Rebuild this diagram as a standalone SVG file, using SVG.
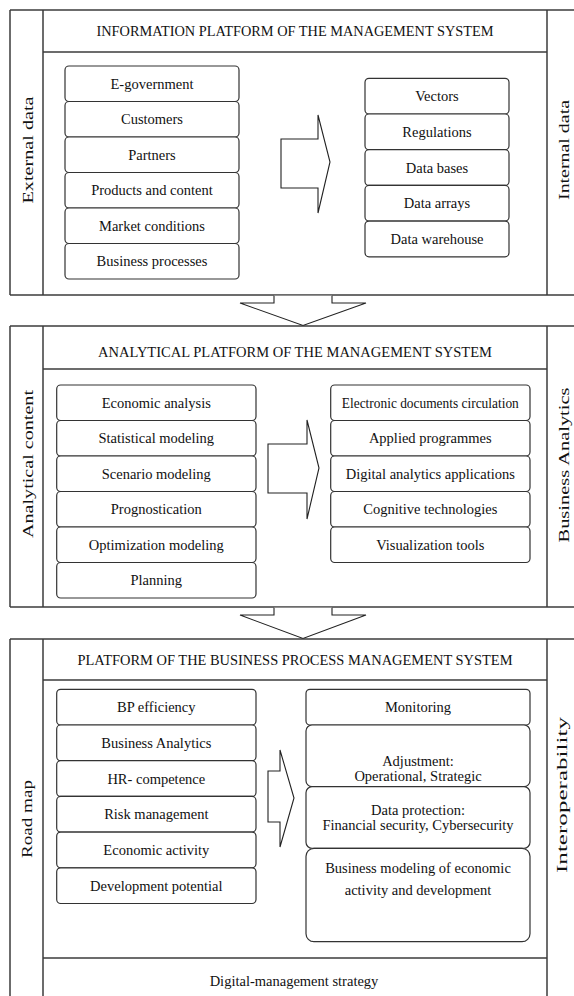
<svg xmlns="http://www.w3.org/2000/svg" width="574" height="996" viewBox="0 0 574 996" font-family="'Liberation Serif', 'Times New Roman', 'DejaVu Serif', serif">
<style>
.frame{fill:none;stroke:#3c3c3c;stroke-width:1.5}
.box{fill:#fff;stroke:#333;stroke-width:1.2}
.arrow{fill:#fff;stroke:#222;stroke-width:1.1;stroke-linejoin:miter}
text{font-family:'Liberation Serif','Times New Roman','DejaVu Serif',serif;fill:#111;text-anchor:middle}
.item{font-size:14.5px}
.hdr{font-size:14px}
.vert{font-size:15px}
</style>
<rect width="574" height="996" fill="#fff"/>

<!-- Section frames -->
<g id="section-information" class="frame">
  <path d="M10,10 H574 M10,295 H574 M10,10 V295 M43,10 V295 M547,10 V295 M43,52 H547"/>
</g>
<g id="section-analytical" class="frame">
  <path d="M10,326 H574 M10,607 H574 M10,326 V607 M43,326 V607 M547,326 V607 M43,369 H547"/>
</g>
<g id="section-bpm" class="frame">
  <path d="M10,639 H574 M10,639 V996 M43,639 V996 M547,639 V996 M43,680 H547 M43,958 H547"/>
</g>

<!-- Section headers and side labels -->
<g id="hdr-information"><text class="hdr" x="295" y="36" textLength="397" lengthAdjust="spacingAndGlyphs">INFORMATION PLATFORM OF THE MANAGEMENT SYSTEM</text></g>
<g id="hdr-analytical"><text class="hdr" x="295" y="357" textLength="394" lengthAdjust="spacingAndGlyphs">ANALYTICAL PLATFORM OF THE MANAGEMENT SYSTEM</text></g>
<g id="hdr-bpm"><text class="hdr" x="295" y="665" textLength="435" lengthAdjust="spacingAndGlyphs">PLATFORM OF THE BUSINESS PROCESS MANAGEMENT SYSTEM</text></g>
<g id="footer-strategy"><text class="item" x="294" y="986">Digital-management strategy</text></g>

<g id="lbl-external"><text class="vert" transform="translate(32.5,150) rotate(-90)" textLength="107" lengthAdjust="spacingAndGlyphs">External data</text></g>
<g id="lbl-internal"><text class="vert" transform="translate(568.5,150) rotate(-90)" textLength="100" lengthAdjust="spacingAndGlyphs">Internal data</text></g>
<g id="lbl-analytical-content"><text class="vert" transform="translate(32.5,464) rotate(-90)" textLength="148" lengthAdjust="spacingAndGlyphs">Analytical content</text></g>
<g id="lbl-business-analytics"><text class="vert" transform="translate(568.5,465) rotate(-90)" textLength="155" lengthAdjust="spacingAndGlyphs">Business Analytics</text></g>
<g id="lbl-road-map"><text class="vert" transform="translate(31.5,819) rotate(-90)" textLength="78" lengthAdjust="spacingAndGlyphs">Road map</text></g>
<g id="lbl-interoperability"><text class="vert" transform="translate(567,795) rotate(-90)" textLength="156" lengthAdjust="spacingAndGlyphs">Interoperability</text></g>

<!-- Information platform: external list -->
<g id="ext-egov"><rect class="box" x="65" y="66" width="174" height="35.5" rx="4"/><text class="item" x="152" y="88.8">E-government</text></g>
<g id="ext-customers"><rect class="box" x="65" y="101.5" width="174" height="35.5" rx="4"/><text class="item" x="152" y="124.3">Customers</text></g>
<g id="ext-partners"><rect class="box" x="65" y="137" width="174" height="35.5" rx="4"/><text class="item" x="152" y="159.8">Partners</text></g>
<g id="ext-products"><rect class="box" x="65" y="172.5" width="174" height="35.5" rx="4"/><text class="item" x="152" y="195.3">Products and content</text></g>
<g id="ext-market"><rect class="box" x="65" y="208" width="174" height="35.5" rx="4"/><text class="item" x="152" y="230.8">Market conditions</text></g>
<g id="ext-bp"><rect class="box" x="65" y="243.5" width="174" height="35.5" rx="4"/><text class="item" x="152" y="266.3">Business processes</text></g>

<!-- Information platform: internal list -->
<g id="int-vectors"><rect class="box" x="365" y="78.3" width="144" height="35.7" rx="4"/><text class="item" x="437" y="101.2">Vectors</text></g>
<g id="int-regulations"><rect class="box" x="365" y="114" width="144" height="35.7" rx="4"/><text class="item" x="437" y="136.9">Regulations</text></g>
<g id="int-databases"><rect class="box" x="365" y="149.7" width="144" height="35.7" rx="4"/><text class="item" x="437" y="172.6">Data bases</text></g>
<g id="int-arrays"><rect class="box" x="365" y="185.4" width="144" height="35.7" rx="4"/><text class="item" x="437" y="208.3">Data arrays</text></g>
<g id="int-warehouse"><rect class="box" x="365" y="221.1" width="144" height="35.7" rx="4"/><text class="item" x="437" y="244">Data warehouse</text></g>

<!-- Analytical platform: left list -->
<g id="an-economic"><rect class="box" x="56.7" y="385" width="199.3" height="35.5" rx="4"/><text class="item" x="156.3" y="407.8">Economic analysis</text></g>
<g id="an-statistical"><rect class="box" x="56.7" y="420.5" width="199.3" height="35.5" rx="4"/><text class="item" x="156.3" y="443.3">Statistical modeling</text></g>
<g id="an-scenario"><rect class="box" x="56.7" y="456" width="199.3" height="35.5" rx="4"/><text class="item" x="156.3" y="478.8">Scenario modeling</text></g>
<g id="an-prognostication"><rect class="box" x="56.7" y="491.5" width="199.3" height="35.5" rx="4"/><text class="item" x="156.3" y="514.3">Prognostication</text></g>
<g id="an-optimization"><rect class="box" x="56.7" y="527" width="199.3" height="35.5" rx="4"/><text class="item" x="156.3" y="549.8">Optimization modeling</text></g>
<g id="an-planning"><rect class="box" x="56.7" y="562.5" width="199.3" height="35.5" rx="4"/><text class="item" x="156.3" y="585.3">Planning</text></g>

<!-- Analytical platform: right list -->
<g id="ba-edoc"><rect class="box" x="330.7" y="385" width="199.3" height="35.5" rx="4"/><text class="item" x="430.3" y="407.8" textLength="177" lengthAdjust="spacingAndGlyphs">Electronic documents circulation</text></g>
<g id="ba-applied"><rect class="box" x="330.7" y="420.5" width="199.3" height="35.5" rx="4"/><text class="item" x="430.3" y="443.3">Applied programmes</text></g>
<g id="ba-digital"><rect class="box" x="330.7" y="456" width="199.3" height="35.5" rx="4"/><text class="item" x="430.3" y="478.8">Digital analytics applications</text></g>
<g id="ba-cognitive"><rect class="box" x="330.7" y="491.5" width="199.3" height="35.5" rx="4"/><text class="item" x="430.3" y="514.3">Cognitive technologies</text></g>
<g id="ba-visualization"><rect class="box" x="330.7" y="527" width="199.3" height="35.5" rx="4"/><text class="item" x="430.3" y="549.8">Visualization tools</text></g>

<!-- BPM platform: left list -->
<g id="rm-efficiency"><rect class="box" x="56.7" y="689.3" width="199.3" height="35.7" rx="4"/><text class="item" x="156.3" y="712.2">BP efficiency</text></g>
<g id="rm-analytics"><rect class="box" x="56.7" y="725" width="199.3" height="35.7" rx="4"/><text class="item" x="156.3" y="747.9">Business Analytics</text></g>
<g id="rm-hr"><rect class="box" x="56.7" y="760.7" width="199.3" height="35.7" rx="4"/><text class="item" x="156.3" y="783.6">HR- competence</text></g>
<g id="rm-risk"><rect class="box" x="56.7" y="796.4" width="199.3" height="35.7" rx="4"/><text class="item" x="156.3" y="819.3">Risk management</text></g>
<g id="rm-activity"><rect class="box" x="56.7" y="832.1" width="199.3" height="35.7" rx="4"/><text class="item" x="156.3" y="855">Economic activity</text></g>
<g id="rm-potential"><rect class="box" x="56.7" y="867.8" width="199.3" height="35.7" rx="4"/><text class="item" x="156.3" y="890.7">Development potential</text></g>

<!-- BPM platform: right list -->
<g id="io-monitoring"><rect class="box" x="306" y="689.3" width="224" height="35.7" rx="4"/><text class="item" x="418" y="712.2">Monitoring</text></g>
<g id="io-adjustment"><rect class="box" x="306" y="725" width="224" height="61.7" rx="6"/><text class="item" x="418" y="766">Adjustment:</text><text class="item" x="418" y="781">Operational, Strategic</text></g>
<g id="io-protection"><rect class="box" x="306" y="786.7" width="224" height="61.6" rx="6"/><text class="item" x="418" y="815">Data protection:</text><text class="item" x="418" y="830">Financial security, Cybersecurity</text></g>
<g id="io-modeling"><rect class="box" x="306" y="848.3" width="224" height="93.4" rx="8"/><text class="item" x="418" y="873">Business modeling of economic</text><text class="item" x="418" y="895">activity and development</text></g>

<!-- Connectors (block arrows) -->
<g id="connectors">
  <polygon class="arrow" points="281,139 318,139 318,115 330,162 318,213 318,188 281,188"/>
  <polygon class="arrow" points="268,444 307,444 307,420 319,468 307,519 307,493 268,493"/>
  <polygon class="arrow" points="268,771 280,771 280,750 294,798 280,847 280,822 268,822"/>
  <polyline class="arrow" points="274,295.8 274,303 240,303 303,325.5 366,303 332,303 332,295.8"/>
  <polyline class="arrow" points="274,607.8 274,615 240,615 303,638.5 366,615 332,615 332,607.8"/>
</g>
</svg>
